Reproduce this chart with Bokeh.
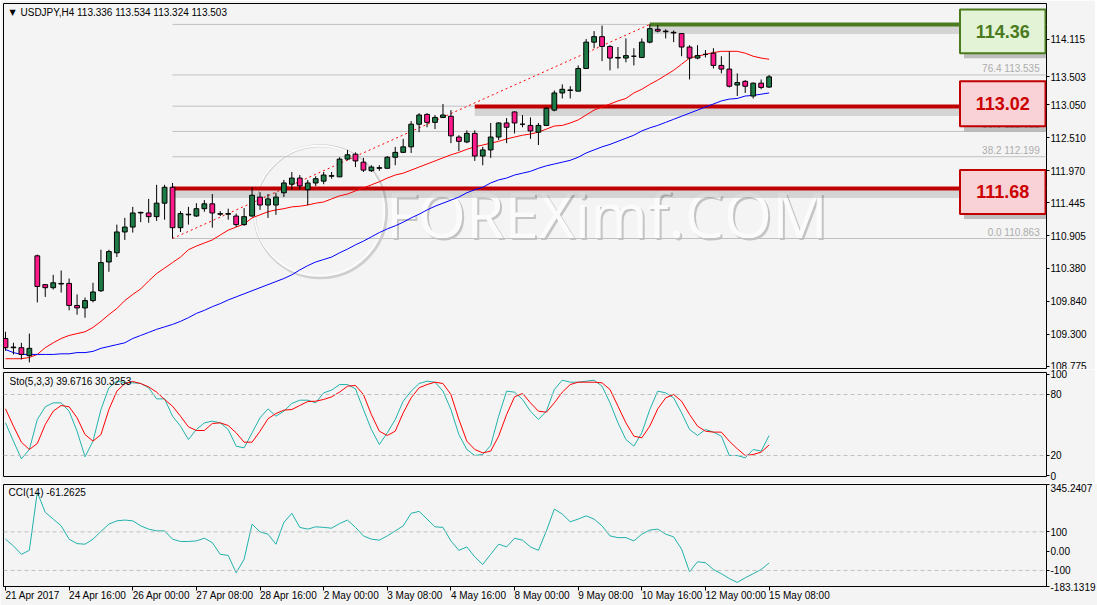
from bokeh.plotting import figure
from bokeh.models import Range1d, FixedTicker, Label, NumeralTickFormatter, LinearAxis, Span
from bokeh.layouts import column
from bokeh.embed import file_html
from bokeh.resources import INLINE
from bokeh.core.properties import value

# ---------------- data ----------------
symbol_title = "USDJPY,H4  113.336 113.534 113.324 113.503"
sto_title = "Sto(5,3,3) 39.6716 30.3253"
cci_title = "CCI(14) -61.2625"

time_labels = ["21 Apr 2017", "24 Apr 16:00", "26 Apr 00:00", "27 Apr 08:00", "28 Apr 16:00",
               "2 May 00:00", "3 May 08:00", "4 May 16:00", "8 May 00:00", "9 May 08:00",
               "10 May 16:00", "12 May 00:00", "15 May 08:00"]
time_label_bars = [0, 8, 16, 24, 32, 40, 48, 56, 64, 72, 80, 88, 96]

open_ = [109.23, 109.08, 109.08, 108.95, 110.58, 110.11, 110.06, 110.13, 110.13, 109.77,
         109.73, 109.85, 110.01, 110.48, 110.63, 110.97, 111.05, 111.28, 111.28, 111.22,
         111.44, 111.70, 111.04, 111.25, 111.23, 111.35, 111.43, 111.27, 111.26, 111.23,
         111.09, 111.23, 111.54, 111.41, 111.41, 111.61, 111.75, 111.85, 111.66, 111.77,
         111.80, 111.88, 111.87, 112.16, 112.24, 112.11, 111.97, 112.01, 112.01, 112.19,
         112.27, 112.36, 112.73, 112.89, 112.76, 112.84, 112.86, 112.52, 112.44, 112.58,
         112.21, 112.31, 112.52, 112.75, 112.93, 112.73, 112.71, 112.60, 112.71, 112.96,
         113.24, 113.28, 113.27, 113.64, 114.07, 114.16, 114.00, 113.81, 113.81, 113.84,
         113.82, 114.07, 114.28, 114.25, 114.23, 114.21, 113.99, 113.81, 113.87, 113.89,
         113.69, 113.63, 113.37, 113.43, 113.19, 113.40, 113.336]
high = [109.34, 109.16, 109.16, 109.31, 110.60, 110.12, 110.27, 110.34, 110.21, 109.95,
        109.90, 110.14, 110.68, 110.68, 111.09, 111.20, 111.38, 111.30, 111.51, 111.74,
        111.74, 111.77, 111.31, 111.38, 111.44, 111.49, 111.59, 111.31, 111.35, 111.27,
        111.36, 111.70, 111.62, 111.59, 111.61, 111.82, 111.95, 111.90, 111.82, 111.88,
        111.95, 111.95, 112.19, 112.31, 112.27, 112.18, 112.06, 112.06, 112.21, 112.36,
        112.49, 112.78, 112.91, 112.91, 112.88, 113.06, 112.96, 112.55, 112.63, 112.63,
        112.36, 112.75, 112.76, 112.83, 112.94, 112.88, 112.84, 112.75, 113.01, 113.28,
        113.38, 113.35, 113.69, 114.12, 114.25, 114.34, 114.02, 113.99, 114.13, 113.97,
        114.13, 114.36, 114.35, 114.28, 114.26, 114.21, 114.02, 114.02, 113.94, 113.97,
        113.84, 113.92, 113.56, 113.45, 113.41, 113.46, 113.534]
low = [109.03, 108.97, 108.89, 108.84, 109.82, 109.91, 110.03, 109.98, 109.69, 109.62,
       109.57, 109.82, 109.99, 110.32, 110.56, 110.84, 110.96, 111.13, 111.12, 111.15,
       111.17, 110.863, 110.97, 111.09, 111.22, 111.30, 111.04, 111.23, 111.17, 111.05,
       111.07, 111.22, 111.33, 111.20, 111.25, 111.54, 111.66, 111.66, 111.41, 111.72,
       111.75, 111.84, 111.87, 112.14, 112.03, 111.95, 111.95, 111.97, 112.01, 112.06,
       112.26, 112.26, 112.60, 112.68, 112.65, 112.84, 112.42, 112.29, 112.42, 112.13,
       112.06, 112.18, 112.47, 112.42, 112.58, 112.68, 112.49, 112.39, 112.70, 112.94,
       113.15, 113.15, 113.27, 113.63, 113.97, 113.76, 113.61, 113.64, 113.74, 113.69,
       113.81, 114.05, 114.23, 114.13, 114.07, 113.84, 113.46, 113.79, 113.82, 113.64,
       113.56, 113.33, 113.19, 113.24, 113.15, 113.30, 113.324]
close = [109.08, 109.09, 108.97, 109.07, 110.08, 110.06, 110.14, 110.12, 109.77, 109.73,
         109.85, 109.99, 110.47, 110.65, 110.97, 111.05, 111.28, 111.29, 111.22, 111.44,
         111.70, 111.04, 111.27, 111.26, 111.35, 111.43, 111.28, 111.26, 111.27, 111.09,
         111.22, 111.57, 111.41, 111.51, 111.54, 111.77, 111.85, 111.72, 111.77, 111.84,
         111.90, 111.89, 112.16, 112.23, 112.13, 111.98, 112.03, 112.02, 112.19, 112.27,
         112.36, 112.73, 112.88, 112.76, 112.84, 112.88, 112.54, 112.45, 112.58, 112.21,
         112.31, 112.52, 112.75, 112.68, 112.75, 112.73, 112.62, 112.71, 112.99, 113.24,
         113.30, 113.29, 113.64, 114.07, 114.16, 114.00, 113.81, 113.82, 113.85, 113.84,
         114.07, 114.29, 114.25, 114.24, 114.22, 113.99, 113.81, 113.85, 113.87, 113.69,
         113.63, 113.35, 113.41, 113.35, 113.40, 113.33, 113.503]

ma_red = [108.90, 108.90, 108.90, 108.92, 108.97, 109.08, 109.16, 109.23, 109.28, 109.31,
          109.34, 109.41, 109.51, 109.62, 109.72, 109.85, 109.95, 110.04, 110.17, 110.29,
          110.38, 110.47, 110.56, 110.68, 110.74, 110.79, 110.84, 110.92, 111.00, 111.05,
          111.10, 111.20, 111.25, 111.30, 111.33, 111.35, 111.38, 111.39, 111.41, 111.44,
          111.46, 111.51, 111.56, 111.59, 111.64, 111.69, 111.74, 111.79, 111.85, 111.90,
          111.93, 111.98, 112.03, 112.08, 112.13, 112.18, 112.23, 112.27, 112.32, 112.36,
          112.39, 112.42, 112.45, 112.49, 112.52, 112.55, 112.57, 112.60, 112.65, 112.70,
          112.71, 112.75, 112.80, 112.88, 112.96, 113.01, 113.06, 113.11, 113.15, 113.24,
          113.30, 113.38, 113.45, 113.53, 113.61, 113.71, 113.81, 113.84, 113.87, 113.90,
          113.92, 113.92, 113.92, 113.89, 113.84, 113.81, 113.79]
ma_blue = [109.05, 109.00, 108.97, 108.97, 108.97, 108.97, 108.97, 108.98, 108.98, 109.00,
           109.00, 109.02, 109.07, 109.10, 109.13, 109.16, 109.23, 109.28, 109.33, 109.38,
           109.42, 109.46, 109.51, 109.57, 109.64, 109.69, 109.75, 109.80, 109.86, 109.91,
           109.96, 110.01, 110.06, 110.11, 110.16, 110.21, 110.27, 110.35, 110.42, 110.48,
           110.52, 110.56, 110.63, 110.69, 110.76, 110.82, 110.89, 110.96, 111.02, 111.07,
           111.13, 111.20, 111.26, 111.33, 111.39, 111.44, 111.49, 111.54, 111.61, 111.66,
           111.70, 111.77, 111.82, 111.85, 111.90, 111.93, 111.96, 112.01, 112.05, 112.08,
           112.11, 112.14, 112.19, 112.26, 112.31, 112.36, 112.40, 112.45, 112.50, 112.55,
           112.62, 112.67, 112.71, 112.76, 112.81, 112.86, 112.91, 112.96, 113.01, 113.06,
           113.11, 113.14, 113.15, 113.19, 113.20, 113.22, 113.24]

sto_main = [52.1, 34.1, 16.7, 25.9, 55.4, 67.9, 71.8, 71.8, 63.6, 43.9,
            18.7, 34.1, 65.2, 86.6, 93.1, 91.5, 91.5, 90.8, 86.6, 75.7,
            75.7, 58.7, 48.9, 35.7, 45.6, 52.1, 53.8, 52.1, 45.6, 29.2,
            27.5, 42.3, 57.1, 65.9, 58.7, 63.6, 71.2, 74.4, 74.4, 71.8,
            81.6, 84.3, 89.8, 89.8, 85.6, 65.2, 45.6, 30.8, 42.3, 55.4,
            73.4, 83.3, 90.8, 93.1, 92.1, 83.3, 65.2, 40.6, 25.9, 20.0,
            21.0, 29.8, 58.7, 83.3, 82.3, 75.1, 63.6, 55.4, 63.6, 84.9,
            94.1, 92.1, 92.1, 93.1, 94.1, 88.2, 71.8, 52.1, 35.7, 29.2,
            42.3, 65.2, 83.3, 81.6, 76.7, 61.9, 45.6, 39.7, 45.6, 43.0,
            39.0, 20.0, 20.0, 17.7, 25.9, 24.3, 39.67]
sto_signal = [65.9, 48.9, 33.1, 25.9, 31.8, 50.5, 63.6, 69.2, 67.9, 57.1,
              40.6, 34.1, 40.6, 65.2, 83.3, 90.8, 92.8, 90.8, 87.5, 82.3,
              75.1, 68.5, 58.7, 48.2, 44.6, 44.6, 51.5, 52.1, 49.5, 42.3,
              33.1, 33.1, 43.9, 56.1, 61.3, 64.6, 65.2, 69.2, 73.1, 73.4,
              75.1, 77.7, 82.3, 88.2, 88.9, 80.0, 60.3, 43.9, 39.7, 43.9,
              61.9, 76.7, 86.6, 89.8, 92.1, 90.8, 80.0, 55.4, 34.1, 25.9,
              22.6, 24.3, 39.0, 60.3, 77.7, 81.0, 71.8, 63.6, 62.6, 71.8,
              82.3, 89.8, 92.1, 92.1, 92.1, 91.5, 84.9, 68.5, 52.1, 39.0,
              37.4, 48.9, 65.9, 76.7, 80.0, 73.4, 60.3, 48.9, 43.9, 43.0,
              43.0, 34.1, 26.6, 20.0, 21.0, 23.3, 30.33]
cci = [61.8, 27.0, -16.5, 4.4, 305.0, 201, 166, 131, 62, 39,
       36, 62, 102, 140, 157, 161, 157, 131, 114, 105,
       105, 62, 50, 50, 53, 67, 44, -16.5, -22, -112,
       -42, 140, 100, 88, 36, 149, 196, 123, 114, 126,
       123, 119, 143, 161, 123, 79, 62, 57, 79, 105,
       131, 196, 206, 166, 126, 123, 53, 4, 22, -30,
       -69, -16, 36, 22, 67, 57, 22, 4, 105, 218,
       192, 152, 166, 183, 166, 131, 79, 70, 70, 53,
       88, 109, 114, 88, 74, 10, -107, -55, -60, -95,
       -117, -142, -162, -138, -117, -95, -61.26]

price_ticks = [114.115, 113.503, 113.050, 112.510, 111.970, 111.445,
               110.905, 110.380, 109.840, 109.300, 108.775]
sto_ticks = [100, 80, 20, 0]
cci_top, cci_bot = 345.2407, -183.1319
cci_ticks = [cci_top, 100, 0, -100, cci_bot]
cci_tick_text = ["345.2407", "100", "0.00", "-100", "-183.1319"]

fib_low, fib_high = 110.863, 114.360
fib_low_bar, fib_high_bar = 21, 81
fib_ratios = [0.0, 23.6, 38.2, 50.0, 61.8, 76.4, 100.0]

levels = [114.36, 113.02, 111.68]
level_text = ["114.36", "113.02", "111.68"]
level_start_bar = [81, 59, 21]
level_box_top = [114.603, 113.431, 111.981]
level_box_bottom = [113.887, 112.698, 111.265]
level_line_color = ["#4B7A1F", "#C00000", "#C00000"]
level_fill_color = ["#E3F4D6", "#F8D2D6", "#F8D2D6"]
level_text_color = ["#4B7A1F", "#CC0000", "#CC0000"]

# ---------------- styling / layout ----------------
BG = "#F4F4F4"
FONT = "Liberation Sans"
BULL = "#1E7A46"
BEAR = "#FF1A8C"
TEAL = "#20B2AA"
FW = 1043
LEFT, RIGHT = 3, 49
H1, H2, H3 = 366, 104, 102

n = len(close)
xs = list(range(n))
xr = Range1d(-0.25, 130.875)
price_range = Range1d(108.724, 114.701)


def make_panel(h, yr, top, bottom):
    p = figure(frame_width=FW, frame_height=h, x_range=xr, y_range=yr,
               output_backend="svg", toolbar_location=None,
               x_axis_location=None, y_axis_location="right",
               min_border_left=LEFT, min_border_right=RIGHT,
               min_border_top=top, min_border_bottom=bottom,
               background_fill_color=BG, border_fill_color=BG,
               outline_line_color="black", outline_line_width=1)
    p.grid.visible = False
    ax = p.yaxis[0]
    ax.axis_line_color = None
    ax.major_tick_out = 3
    ax.major_tick_in = 0
    ax.major_tick_line_color = "black"
    ax.minor_tick_line_color = None
    ax.major_label_text_font = FONT
    ax.major_label_text_font_size = "10px"
    ax.major_label_text_color = "black"
    ax.major_label_standoff = 1
    return p


def title_label(p, h, text, x, dy=9):
    p.add_layout(Label(x=x, y=h - dy, x_units="screen", y_units="screen", text=text,
                       text_font=FONT, text_font_size="10px", text_color="black",
                       text_baseline="middle", text_align="left"))


# ---------------- main price panel ----------------
p1 = make_panel(H1, price_range, 3, 0)
p1.yaxis[0].ticker = FixedTicker(ticks=price_ticks)
p1.yaxis[0].formatter = NumeralTickFormatter(format="0.000")
ppx = (price_range.end - price_range.start) / H1

# watermark
p1.scatter(x=[39.6], y=[111.30], size=132, marker="circle", fill_color=None,
           line_color="#CFCFCF", line_width=3)
p1.scatter(x=[39.45], y=[111.30 + ppx], size=130, marker="circle", fill_color=None,
           line_color="#FBFBFB", line_width=2)
p1.text(x=[75.6], y=[111.27], text=["FOREXimf.COM"], text_font=value("Open Sans"),
        text_font_size="62px", text_color="#C4C4C4", text_align="center",
        text_baseline="middle", x_offset=2, y_offset=2)
p1.text(x=[75.6], y=[111.27], text=["FOREXimf.COM"], text_font=value("Open Sans"),
        text_font_size="62px", text_color="#FBFBFB", text_align="center",
        text_baseline="middle")

# fibonacci retracement
fib_levels = [fib_low + r / 100.0 * (fib_high - fib_low) for r in fib_ratios]
fib_text = [f"{r:.1f}  {v:.3f}" for r, v in zip(fib_ratios, fib_levels)]
p1.segment(x0=[fib_low_bar] * len(fib_levels), y0=fib_levels,
           x1=[xr.end] * len(fib_levels), y1=fib_levels, line_color="#C0C0C0", line_width=1)
p1.text(x=[xr.end] * len(fib_levels), y=fib_levels, text=fib_text, text_align="right",
        text_baseline="bottom", x_offset=-4, y_offset=-1, text_color="#ADADAD",
        text_font=value(FONT), text_font_size="10px")
p1.line(x=[fib_low_bar, fib_high_bar], y=[fib_low, fib_high], line_color="#FF0000",
        line_dash="2 3", line_width=1)

# support / resistance lines with shadows
box_left, box_right = 120.0, 130.75
p1.segment(x0=level_start_bar, y0=[l - 5 * ppx for l in levels], x1=[box_left] * 3,
           y1=[l - 5 * ppx for l in levels], line_color="black", line_alpha=0.13, line_width=9)
p1.segment(x0=level_start_bar, y0=levels, x1=[box_left] * 3, y1=levels,
           line_color=level_line_color, line_width=4)

# moving averages
p1.line(xs, ma_red, line_color="#FF0000", line_width=1)
p1.line(xs, ma_blue, line_color="#0000FF", line_width=1)

# candles
body_top = [max(o, c) for o, c in zip(open_, close)]
body_bot = [min(o, c) for o, c in zip(open_, close)]
body_col = [BULL if c >= o else BEAR for o, c in zip(open_, close)]
p1.segment(x0=xs, y0=low, x1=xs, y1=high, line_color="black", line_width=1)
p1.vbar(x=xs, width=0.6, top=body_top, bottom=body_bot, fill_color=body_col,
        line_color="black", line_width=1)

# boxes
p1.quad(left=[box_left + 0.5] * 3, right=[box_right + 0.5] * 3,
        top=[t - 4 * ppx for t in level_box_top], bottom=[b - 5 * ppx for b in level_box_bottom],
        fill_color="black", fill_alpha=0.22, line_color=None)
p1.quad(left=[box_left] * 3, right=[box_right] * 3, top=level_box_top, bottom=level_box_bottom,
        fill_color=level_fill_color, line_color=level_line_color, line_width=2)
p1.text(x=[(box_left + box_right) / 2] * 3,
        y=[(t + b) / 2 for t, b in zip(level_box_top, level_box_bottom)],
        text=level_text, text_color=level_text_color, text_font=value(FONT),
        text_font_size="18px", text_font_style="bold", text_align="center",
        text_baseline="middle")

p1.add_layout(Label(x=6, y=H1 - 9, x_units="screen", y_units="screen", text="▼",
                    text_font="DejaVu Sans", text_font_size="8px", text_color="black",
                    text_baseline="middle"))
title_label(p1, H1, symbol_title, 17)

# ---------------- stochastic panel ----------------
p2 = make_panel(H2, Range1d(-0.66, 101.64), 3, 7)
p2.yaxis[0].ticker = FixedTicker(ticks=sto_ticks)
for lv in (20, 80):
    p2.add_layout(Span(location=lv, dimension="width", line_color="#C0C0C0",
                       line_dash="4 3", line_width=1))
p2.line(xs, sto_main, line_color=TEAL, line_width=1)
p2.line(xs, sto_signal, line_color="#FF0000", line_width=1)
title_label(p2, H2, sto_title, 6)

# ---------------- CCI panel ----------------
p3 = make_panel(H3, Range1d(cci_bot, cci_top), 1, 19)
p3.yaxis[0].ticker = FixedTicker(ticks=cci_ticks)
p3.yaxis[0].major_label_overrides = {t: s for t, s in zip(cci_ticks, cci_tick_text)}
for lv in (100, -100):
    p3.add_layout(Span(location=lv, dimension="width", line_color="#C0C0C0",
                       line_dash="4 3", line_width=1))
p3.line(xs, cci, line_color=TEAL, line_width=1)
title_label(p3, H3, cci_title, 5, 8)

xaxis = LinearAxis(ticker=FixedTicker(ticks=time_label_bars), axis_line_color="black",
                   major_tick_out=4, major_tick_in=0, minor_tick_line_color=None,
                   major_label_text_font=FONT, major_label_text_font_size="10px",
                   major_label_text_color="black", major_label_standoff=5,
                   major_label_orientation=-0.0001)
xaxis.major_label_overrides = {b: t for b, t in zip(time_label_bars, time_labels)}
p3.add_layout(xaxis, "below")

layout = column(p1, p2, p3)
open("out.html", "w").write(file_html(layout, INLINE, "USDJPY H4"))
